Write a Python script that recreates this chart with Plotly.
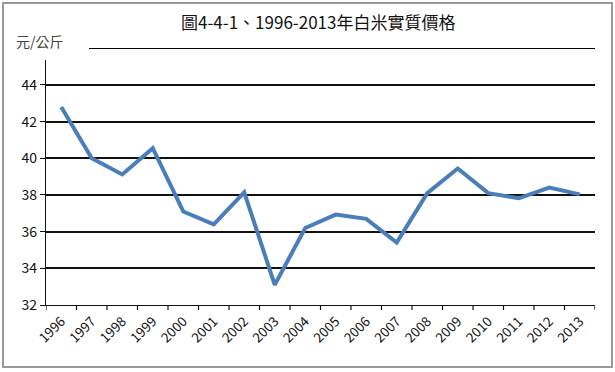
import plotly.graph_objects as go

years = ["1996", "1997", "1998", "1999", "2000", "2001", "2002", "2003", "2004",
         "2005", "2006", "2007", "2008", "2009", "2010", "2011", "2012", "2013"]
prices = [42.8, 40.0, 39.12, 40.55, 37.1, 36.4, 38.14, 33.1, 36.2,
          36.93, 36.7, 35.4, 38.1, 39.44, 38.1, 37.82, 38.4, 38.03]
y_ticks = [32, 34, 36, 38, 40, 42, 44]

title_text = "圖4-4-1、1996-2013年白米實質價格"
unit_text = "元/公斤"

font_family = "Noto Sans CJK TC, Noto Sans, sans-serif"

fig = go.Figure()
fig.add_trace(go.Scatter(
    x=list(range(len(years))), y=prices, mode="lines",
    line=dict(color="#4a7ebb", width=4),
    hoverinfo="x+y", showlegend=False,
))

L, R, T, B = 46, 20, 60, 67
W, H = 615, 372
pw, ph = W - L - R, H - T - B

def px(x):
    return (x - L) / pw

def py(y):
    return (H - B - y) / ph

fig.update_layout(
    width=W, height=H,
    margin=dict(l=L, r=R, t=T, b=B, autoexpand=False),
    paper_bgcolor="white", plot_bgcolor="white",
    font=dict(family=font_family, color="#111", size=13),
    xaxis=dict(
        range=[-0.5, len(years) - 0.5],
        tickmode="array",
        tickvals=list(range(len(years))),
        ticktext=years,
        tickangle=-45,
        tickfont=dict(size=13.5),
        showgrid=False, zeroline=False, automargin=False,
        showline=True, linecolor="#111", linewidth=1.2,
        ticks="", ticklabelstandoff=2,
    ),
    yaxis=dict(
        range=[32, 45.36],
        tickmode="array", tickvals=y_ticks,
        tickfont=dict(size=14),
        showgrid=True, gridcolor="#111", gridwidth=1.6,
        zeroline=False, automargin=False,
        showline=True, linecolor="#111", linewidth=1.2,
        ticks="outside", ticklen=5, tickcolor="#111", tickwidth=1.2,
    ),
    annotations=[
        dict(text=title_text, x=px(318), y=py(22), xref="paper", yref="paper",
             showarrow=False, font=dict(size=17, color="#111"),
             xanchor="center", yanchor="middle"),
        dict(text=unit_text, x=px(14), y=py(41), xref="paper", yref="paper",
             showarrow=False, font=dict(size=14, color="#444"),
             xanchor="left", yanchor="middle"),
    ],
)

shapes = []
# x-axis tick marks at category boundaries
for i in range(len(years) + 1):
    shapes.append(dict(type="line", xref="x", yref="paper",
                       x0=i - 0.5, x1=i - 0.5, y0=0, y1=-5 / ph,
                       line=dict(color="#111", width=1.2)))
# line under title
shapes.append(dict(type="line", xref="paper", yref="paper",
                   x0=px(89), x1=px(595), y0=py(48.5), y1=py(48.5),
                   line=dict(color="#000", width=1)))
# outer frame
shapes.append(dict(type="rect", xref="paper", yref="paper",
                   x0=px(3), x1=px(612), y0=py(367), y1=py(3),
                   line=dict(color="#999", width=2)))
fig.update_layout(shapes=shapes)

fig.write_html("out.html",
               config={"displayModeBar": False},
               post_script="document.body.style.margin='0';document.body.style.overflow='hidden';")
